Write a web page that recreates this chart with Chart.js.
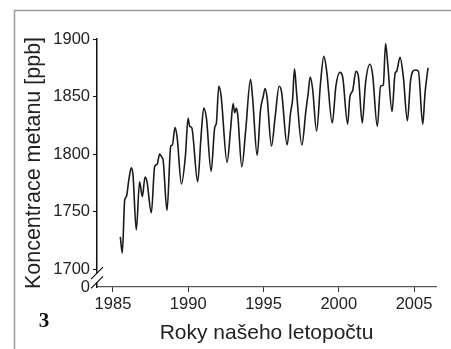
<!DOCTYPE html>
<html><head><meta charset="utf-8">
<script src="https://cdn.jsdelivr.net/npm/chart.js@4/dist/chart.umd.min.js"></script>
<style>html,body{margin:0;padding:0;background:#fff;overflow:hidden}#wrap{position:relative;width:451px;height:349px}</style>
</head><body><div id="wrap"><canvas id="c" width="451" height="349"></canvas></div>
<script>
// ---- data ----
const years = [1985.49,1985.62,1985.78,1985.89,1986.06,1986.22,1986.33,1986.55,1986.77,1986.95,
  1987.13,1987.26,1987.55,1987.77,1987.93,1988.10,1988.26,1988.33,1988.59,1988.84,
  1988.95,1989.12,1989.26,1989.55,1989.81,1989.99,1990.10,1990.23,1990.63,1990.85,
  1991.03,1991.21,1991.52,1991.76,1991.87,1992.03,1992.18,1992.58,1992.83,1992.98,
  1993.09,1993.20,1993.29,1993.56,1993.82,1994.14,1994.27,1994.58,1994.80,1994.98,
  1995.11,1995.24,1995.53,1995.78,1996.04,1996.20,1996.57,1996.80,1996.93,1997.06,
  1997.20,1997.55,1997.82,1997.97,1998.10,1998.26,1998.53,1998.79,1999.01,1999.19,
  1999.57,1999.81,2000.08,2000.26,2000.59,2000.74,2000.92,2001.14,2001.30,2001.56,
  2001.78,2002.07,2002.25,2002.56,2002.78,2002.96,2003.11,2003.25,2003.54,2003.74,
  2003.85,2004.07,2004.29,2004.56,2004.78,2005.07,2005.29,2005.58,2005.73,2005.93];
const ppb = [1728,1714,1760,1763,1778,1788,1782,1734,1776,1763,
  1780,1776,1749,1789,1791,1800,1797,1795,1751,1807,
  1808,1823,1815,1774,1798,1831,1824,1823,1776,1815,
  1840,1831,1785,1823,1827,1859,1851,1793,1824,1844,
  1836,1840,1834,1789,1821,1865,1850,1799,1838,1850,
  1857,1849,1807,1833,1859,1854,1808,1836,1847,1874,
  1853,1808,1838,1853,1867,1857,1820,1862,1885,1873,
  1827,1859,1871,1867,1826,1850,1855,1872,1868,1827,
  1862,1878,1869,1824,1859,1860,1896,1879,1837,1870,
  1872,1884,1867,1829,1865,1873,1872,1826,1853,1875];
const xTickValues = [1985, 1990, 1995, 2000, 2005];
const yTickValues = [1700, 1750, 1800, 1850, 1900];
const yZeroLabel = '0';
const xTitle = 'Roky našeho letopočtu';
const yTitle = 'Koncentrace metanu [ppb]';
const panelLabel = '3';

// ---- scale settings ----
const X_MIN = 1983.94, X_MAX = 2006.46;
const Y_MIN = 1684.5, Y_MAX = 1900;

const frameAndBreak = {
  id: 'frameAndBreak',
  beforeDraw(chart) {
    const ctx = chart.ctx;
    ctx.save();
    ctx.fillStyle = '#fff';
    ctx.fillRect(0, 0, chart.width, chart.height);
    ctx.strokeStyle = '#9a9a9a';
    ctx.lineWidth = 1.5;
    ctx.beginPath();
    ctx.moveTo(14.5, chart.height);
    ctx.lineTo(14.5, 10.5);
    ctx.lineTo(chart.width, 10.5);
    ctx.stroke();
    ctx.restore();
  },
  afterDraw(chart) {
    const ctx = chart.ctx;
    const ys = chart.scales.y, xs = chart.scales.x;
    const ax = xs.left;
    const yA = ys.getPixelForValue(1696.5);
    const yB = ys.getPixelForValue(1688.5);
    ctx.save();
    ctx.fillStyle = '#fff';
    ctx.fillRect(ax - 3, yA, 6, yB - yA);
    ctx.strokeStyle = '#111';
    ctx.lineWidth = 1.2;
    ctx.beginPath();
    ctx.moveTo(ax - 6, yA + 6); ctx.lineTo(ax + 6, yA - 6);
    ctx.moveTo(ax - 6, yB + 6); ctx.lineTo(ax + 6, yB - 6);
    ctx.stroke();
    // panel number
    ctx.fillStyle = '#111';
    ctx.font = 'bold 21px "Liberation Serif", serif';
    ctx.textAlign = 'center';
    ctx.textBaseline = 'alphabetic';
    ctx.fillText(panelLabel, 44, 327);
    ctx.restore();
  }
};

new Chart(document.getElementById('c'), {
  type: 'line',
  data: {
    datasets: [{
      data: years.map((x, i) => ({ x: x, y: ppb[i] })),
      borderColor: '#1a1a1a',
      borderWidth: 1.6,
      pointRadius: 0,
      fill: false,
      cubicInterpolationMode: 'monotone'
    }]
  },
  options: {
    responsive: false,
    animation: false,
    devicePixelRatio: 1,
    layout: { padding: { top: 39, right: 15, bottom: 0, left: 0 } },
    plugins: { legend: { display: false }, tooltip: { enabled: false } },
    scales: {
      x: {
        type: 'linear', min: X_MIN, max: X_MAX,
        afterBuildTicks: s => { s.ticks = xTickValues.map(v => ({ value: v })); },
        afterFit: s => { s.height = 62; },
        grid: { drawOnChartArea: false, drawTicks: true, tickLength: 5, color: '#333' },
        border: { display: true, color: '#555', width: 1.2 },
        ticks: { color: '#222', padding: 3, maxRotation: 0, font: { family: '"Liberation Sans", Arial, sans-serif', size: 16.5 }, callback: v => String(v) },
        title: { display: true, text: xTitle, color: '#222', font: { family: '"Liberation Sans", Arial, sans-serif', size: 21 }, padding: { top: 0, bottom: 3 } }
      },
      y: {
        type: 'linear', min: Y_MIN, max: Y_MAX,
        afterBuildTicks: s => { s.ticks = [{ value: Y_MIN }].concat(yTickValues.map(v => ({ value: v }))); },
        afterFit: s => { s.width = 97; },
        grid: { drawOnChartArea: false, drawTicks: true, tickLength: 4, color: c => (c.tick && c.tick.value < 1690 ? 'rgba(0,0,0,0)' : '#111') },
        border: { display: true, color: '#111', width: 1.5 },
        ticks: { color: '#222', padding: 3, font: { family: '"Liberation Sans", Arial, sans-serif', size: 16.5 }, callback: v => (v < 1690 ? yZeroLabel : String(v)) },
        title: { display: true, text: yTitle, color: '#222', font: { family: '"Liberation Sans", Arial, sans-serif', size: 21.5 }, padding: { top: 21, bottom: 0 } }
      }
    }
  },
  plugins: [frameAndBreak]
});
</script></body></html>
